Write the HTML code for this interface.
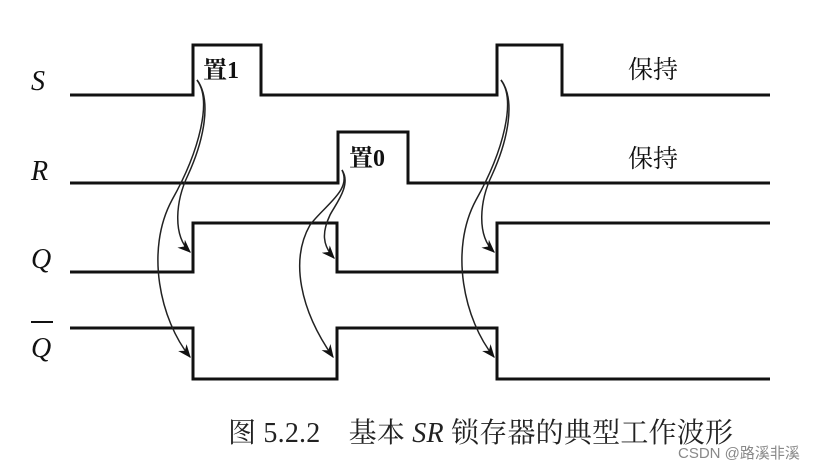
<!DOCTYPE html>
<html><head><meta charset="utf-8"><style>
html,body{margin:0;padding:0;background:#fff;}
body{width:829px;height:467px;overflow:hidden;}
</style></head><body>
<svg width="829" height="467" viewBox="0 0 829 467" xmlns="http://www.w3.org/2000/svg">
<defs><marker id="a" viewBox="0 0 10 10" refX="9" refY="5" markerWidth="9" markerHeight="9" orient="auto-start-reverse"><path d="M0,1 L10,5 L0,9 L3,5 Z" fill="#111"/></marker></defs>
<g fill="none" stroke="#111" stroke-width="3">
<polyline points="70,95 193,95 193,45 261,45 261,95 497,95 497,45 562,45 562,95 770,95"/>
<polyline points="70,183 338,183 338,132 408,132 408,183 770,183"/>
<polyline points="70,272 193,272 193,223 337,223 337,272 497,272 497,223 770,223"/>
<polyline points="70,328 193,328 193,379 337,379 337,328 497,328 497,379 770,379"/>
</g>
<g fill="none" stroke="#222" stroke-width="1.5" marker-end="url(#a)">
<path d="M197,80 C212,100 204,140 188,175 C176,200 172,235 190,252"/>
<path d="M197,80 C212,100 200,150 172,200 C145,250 160,320 190,357"/>
<path d="M342,170 C352,185 335,205 330,215 C322,232 322,245 334,258"/>
<path d="M342,170 C352,190 325,205 310,225 C290,260 300,310 333,357"/>
<path d="M501,80 C516,100 508,140 492,175 C480,200 476,235 494,252"/>
<path d="M501,80 C516,100 504,150 476,200 C449,250 464,320 494,357"/>
</g>
<g font-family="Liberation Serif, serif" font-style="italic" font-size="28" fill="#111">
<text x="31" y="90">S</text>
<text x="31" y="180">R</text>
<text x="31" y="268">Q</text>
<text x="31" y="357">Q</text>
</g>
<line x1="31" y1="322" x2="53" y2="322" stroke="#111" stroke-width="2"/>
<g font-family="Liberation Serif, 'Noto Serif CJK SC', serif" font-weight="bold" font-size="24" fill="#111">
<text x="203" y="78">置1</text>
<text x="349" y="166">置0</text>
<text x="628" y="78" font-weight="normal" font-size="25">保持</text>
<text x="628" y="167" font-weight="normal" font-size="25">保持</text>
</g>
<text x="228" y="442" font-family="Liberation Serif, 'Noto Serif CJK SC', serif" font-size="28" fill="#222" textLength="505" lengthAdjust="spacing">图 5.2.2　基本 <tspan font-style="italic">SR</tspan> 锁存器的典型工作波形</text>
<text x="678" y="458" font-family="Liberation Sans, 'Noto Sans CJK SC', sans-serif" font-size="15" fill="#888">CSDN @路溪非溪</text>
</svg>
</body></html>
